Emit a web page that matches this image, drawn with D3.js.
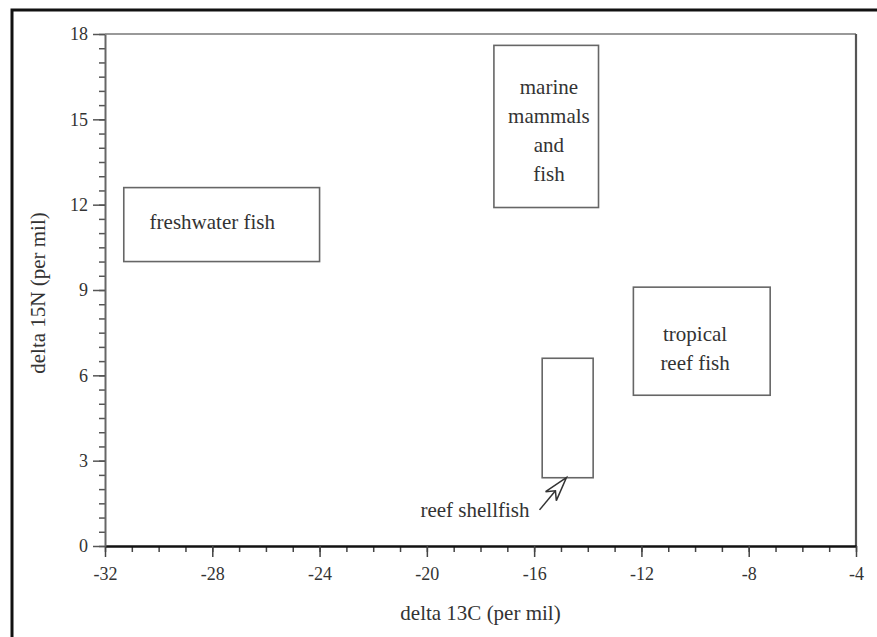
<!DOCTYPE html>
<html lang="en">
<head>
    <meta charset="UTF-8">
    <title>delta 13C vs delta 15N food groups</title>
    <style>
        body { margin: 0; background: #fff; }
        text { font-family: "Liberation Serif", "Times New Roman", serif; fill: #333; }
    </style>
</head>
<body>
<script src="https://cdn.jsdelivr.net/npm/d3@7"></script>
<script>
    const width = 877, height = 637;

    // tick values on both axes
    const xTicks = [-32, -28, -24, -20, -16, -12, -8, -4];
    const xTickLabels = ["-32", "-28", "-24", "-20", "-16", "-12", "-8", "-4"];
    const yTicks = [0, 3, 6, 9, 12, 15, 18];
    const yTickLabels = ["0", "3", "6", "9", "12", "15", "18"];

    // regions (per mil), label anchor in data units too
    const regionNames = ["freshwater fish", "marine mammals and fish", "tropical reef fish", "reef shellfish"];
    const regionX0 = [-31.3, -17.5, -12.3, -15.7];
    const regionX1 = [-24.0, -13.6, -7.2, -13.8];
    const regionY0 = [10.0, 11.9, 5.3, 2.4];
    const regionY1 = [12.6, 17.6, 9.1, 6.6];
    const regionLines = [["freshwater fish"], ["marine", "mammals", "and", "fish"], ["tropical", "reef fish"], []];
    const labelX = [-28.0, -15.45, -10.0, null];
    const labelY = [11.4, 14.6, 6.95, null];

    // callout for the shellfish box
    const calloutText = "reef shellfish";
    const calloutFrom = [-15.8, 1.27];
    const calloutTo = [-14.8, 2.4];

    const margin = ({top: 34, right: 21, bottom: 91, left: 105});

    const x = d3.scaleLinear()
        .domain([-32, -4])
        .range([margin.left, width - margin.right]);
    const y = d3.scaleLinear()
        .domain([0, 18])
        .range([height - margin.bottom, margin.top]);

    const svg = d3.select("body")
        .append("svg")
        .attr("width", width)
        .attr("height", height)
        .attr("viewBox", [0, 0, width, height]);

    // outer frame (only top and left edges show)
    svg.append("rect")
        .attr("x", 12).attr("y", 10)
        .attr("width", width + 20).attr("height", height + 20)
        .attr("fill", "none")
        .attr("stroke", "#111")
        .attr("stroke-width", 3);

    // top and right edges of plot
    svg.append("line")
        .attr("x1", x(-32)).attr("x2", x(-4))
        .attr("y1", y(18)).attr("y2", y(18))
        .attr("stroke", "#777").attr("stroke-width", 1.6);
    svg.append("line")
        .attr("x1", x(-4)).attr("x2", x(-4))
        .attr("y1", y(18)).attr("y2", y(0))
        .attr("stroke", "#555").attr("stroke-width", 2.2);

    // minor ticks
    svg.append("g")
        .attr("transform", `translate(0,${y(0)})`)
        .call(d3.axisBottom(x).tickValues(d3.range(-32, -3, 1)).tickSize(6).tickSizeOuter(0).tickFormat(""))
        .call(g => g.select(".domain").remove())
        .call(g => g.selectAll("line").attr("stroke", "#444").attr("stroke-width", 1.5));
    svg.append("g")
        .attr("transform", `translate(${x(-32)},0)`)
        .call(d3.axisLeft(y).tickValues(d3.range(0, 18.01, 0.5)).tickSize(6).tickSizeOuter(0).tickFormat(""))
        .call(g => g.select(".domain").remove())
        .call(g => g.selectAll("line").attr("stroke", "#555").attr("stroke-width", 1.5));

    // major axes
    const xAxis = svg.append("g")
        .attr("transform", `translate(0,${y(0)})`)
        .call(d3.axisBottom(x).tickValues(xTicks).tickSize(11).tickSizeOuter(0).tickPadding(10)
            .tickFormat((d, i) => xTickLabels[i]));
    xAxis.select(".domain").attr("stroke", "#111").attr("stroke-width", 2.6);
    xAxis.selectAll(".tick line").attr("stroke", "#444").attr("stroke-width", 1.5);
    xAxis.selectAll("text").attr("font-size", 18).attr("fill", "#333")
        .attr("font-family", "Liberation Serif, serif");

    const yAxis = svg.append("g")
        .attr("transform", `translate(${x(-32)},0)`)
        .call(d3.axisLeft(y).tickValues(yTicks).tickSize(12).tickSizeOuter(0).tickPadding(5)
            .tickFormat((d, i) => yTickLabels[i]));
    yAxis.select(".domain").attr("stroke", "#666").attr("stroke-width", 2);
    yAxis.selectAll(".tick line").attr("stroke", "#555").attr("stroke-width", 1.5);
    yAxis.selectAll("text").attr("font-size", 18).attr("fill", "#333")
        .attr("font-family", "Liberation Serif, serif");

    // axis titles
    svg.append("text")
        .attr("x", (x(-32) + x(-4)) / 2)
        .attr("y", 613)
        .attr("text-anchor", "middle")
        .attr("dominant-baseline", "central")
        .attr("font-size", 21)
        .text("delta 13C (per mil)");
    svg.append("text")
        .attr("transform", `translate(38,${(y(0) + y(18)) / 2 + 3}) rotate(-90)`)
        .attr("text-anchor", "middle")
        .attr("dominant-baseline", "central")
        .attr("font-size", 21)
        .text("delta 15N (per mil)");

    // region boxes
    const idx = d3.range(regionNames.length);
    svg.append("g")
        .selectAll("rect")
        .data(idx)
        .join("rect")
        .attr("x", i => x(regionX0[i]))
        .attr("y", i => y(regionY1[i]))
        .attr("width", i => x(regionX1[i]) - x(regionX0[i]))
        .attr("height", i => y(regionY0[i]) - y(regionY1[i]))
        .attr("fill", "none")
        .attr("stroke", "#666")
        .attr("stroke-width", 1.6);

    // box labels
    const lineHeight = 29;
    idx.filter(i => regionLines[i].length).forEach(i => {
        const n = regionLines[i].length;
        svg.append("text")
            .attr("text-anchor", "middle")
            .attr("font-size", 21)
            .selectAll("tspan")
            .data(regionLines[i])
            .join("tspan")
            .attr("x", x(labelX[i]))
            .attr("y", (d, k) => y(labelY[i]) + (k - (n - 1) / 2) * lineHeight)
            .attr("dominant-baseline", "central")
            .text(d => d);
    });

    // callout arrow for reef shellfish
    const [sx, sy] = [x(calloutFrom[0]), y(calloutFrom[1])];
    const [tx, ty] = [x(calloutTo[0]), y(calloutTo[1])];
    const ang = Math.atan2(ty - sy, tx - sx);
    const headLen = 24, headHalf = 7, notch = 17;
    const rot = (px, py) => [tx + px * Math.cos(ang) - py * Math.sin(ang), ty + px * Math.sin(ang) + py * Math.cos(ang)];
    svg.append("line")
        .attr("x1", sx).attr("y1", sy)
        .attr("x2", rot(-notch, 0)[0]).attr("y2", rot(-notch, 0)[1])
        .attr("stroke", "#333").attr("stroke-width", 1.5);
    svg.append("path")
        .attr("d", d3.line()([rot(0, 0), rot(-headLen, -headHalf), rot(-notch, 0), rot(-headLen, headHalf)]) + "Z")
        .attr("fill", "#fff")
        .attr("stroke", "#333")
        .attr("stroke-width", 1.5)
        .attr("stroke-linejoin", "miter");
    svg.append("text")
        .attr("x", sx - 10)
        .attr("y", sy)
        .attr("text-anchor", "end")
        .attr("dominant-baseline", "central")
        .attr("font-size", 21)
        .text(calloutText);
</script>
</body>
</html>
